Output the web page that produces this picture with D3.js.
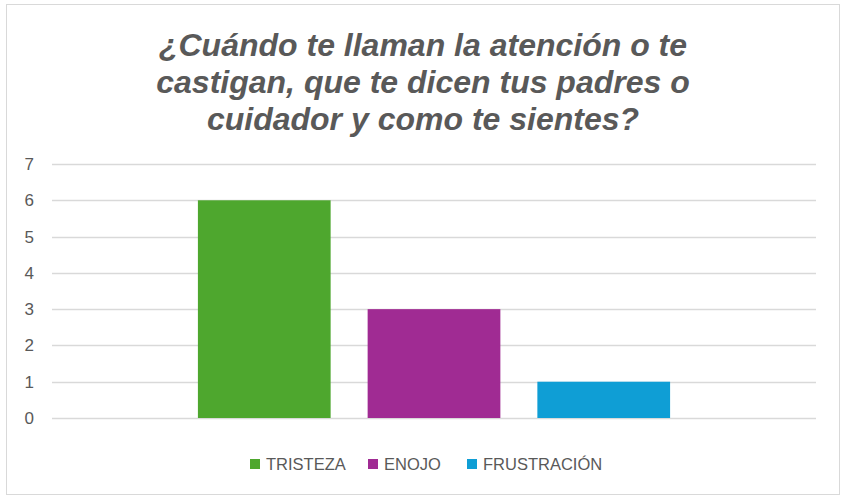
<!DOCTYPE html>
<html>
<head>
<meta charset="utf-8">
<script src="https://cdn.jsdelivr.net/npm/d3@7"></script>
<style>
  body { margin: 0; background: #fff; }
  text { font-family: "Liberation Sans", Arial, sans-serif; }
</style>
</head>
<body>
<div class="container"></div>
<script>
// chart data
var titleLines = ["¿Cuándo te llaman la atención o te",
                  "castigan, que te dicen tus padres o",
                  "cuidador y como te sientes?"];
var series = ["TRISTEZA", "ENOJO", "FRUSTRACIÓN"];
var values = [6, 3, 1];
var colors = ["#4EA72E", "#A02B93", "#0F9ED5"];
var yTicks = [0, 1, 2, 3, 4, 5, 6, 7];

var W = 841, H = 496;
var margin = {top: 164, right: 25, bottom: 78, left: 52},
    width = W - margin.left - margin.right,
    height = H - margin.top - margin.bottom;

var svg = d3.select("div.container").append("svg")
    .attr("width", W)
    .attr("height", H);

// outer frame
svg.append("rect")
    .attr("x", 6.5).attr("y", 4.5)
    .attr("width", 833).attr("height", 490)
    .attr("fill", "#fff")
    .attr("stroke", "#d9d9d9")
    .attr("stroke-width", 1);

// title
svg.append("g").selectAll("text")
    .data(titleLines)
  .enter().append("text")
    .attr("x", 423)
    .attr("y", function(d, i) { return 56 + i * 37; })
    .attr("text-anchor", "middle")
    .attr("font-size", 32)
    .attr("font-weight", "bold")
    .attr("font-style", "italic")
    .attr("fill", "#595959")
    .text(function(d) { return d; });

// scales
var y_scale = d3.scaleLinear().domain([0, 7]).range([height, 0]);
var x0 = d3.scaleBand().domain([""]).range([0, width]).paddingInner(0).paddingOuter(0.309);
var x1 = d3.scaleBand().domain(series).range([0, x0.bandwidth()]).paddingInner(0.218).paddingOuter(0);

var g = svg.append("g")
    .attr("transform", "translate(" + margin.left + "," + margin.top + ")");

// gridlines
g.append("g").selectAll("line")
    .data(yTicks)
  .enter().append("line")
    .attr("x1", 0).attr("x2", width)
    .attr("y1", function(d) { return Math.round(y_scale(d)) + 0.5; })
    .attr("y2", function(d) { return Math.round(y_scale(d)) + 0.5; })
    .attr("stroke", "#d9d9d9")
    .attr("stroke-width", 1.5);

// y axis labels
var yAxis = g.append("g")
    .call(d3.axisLeft(y_scale).tickValues(yTicks).tickFormat(d3.format("d")).tickSize(0).tickPadding(18));
yAxis.select(".domain").remove();
yAxis.selectAll("text")
    .attr("font-family", "Liberation Sans, Arial, sans-serif")
    .attr("font-size", 17)
    .attr("fill", "#595959");

// bars
g.append("g").selectAll("rect")
    .data(series)
  .enter().append("rect")
    .attr("x", function(d) { return x0("") + x1(d); })
    .attr("y", function(d, i) { return y_scale(values[i]); })
    .attr("width", x1.bandwidth())
    .attr("height", function(d, i) { return height - y_scale(values[i]); })
    .attr("fill", function(d, i) { return colors[i]; });

// legend
var legendX = [250, 368, 467];
var legend = svg.append("g").selectAll("g")
    .data(series)
  .enter().append("g")
    .attr("transform", function(d, i) { return "translate(" + legendX[i] + ",459)"; });

legend.append("rect")
    .attr("width", 10).attr("height", 10)
    .attr("fill", function(d, i) { return colors[i]; });

legend.append("text")
    .attr("x", 16).attr("y", 10.5)
    .attr("font-size", 16.5)
    .attr("fill", "#595959")
    .text(function(d) { return d; });
</script>
</body>
</html>
